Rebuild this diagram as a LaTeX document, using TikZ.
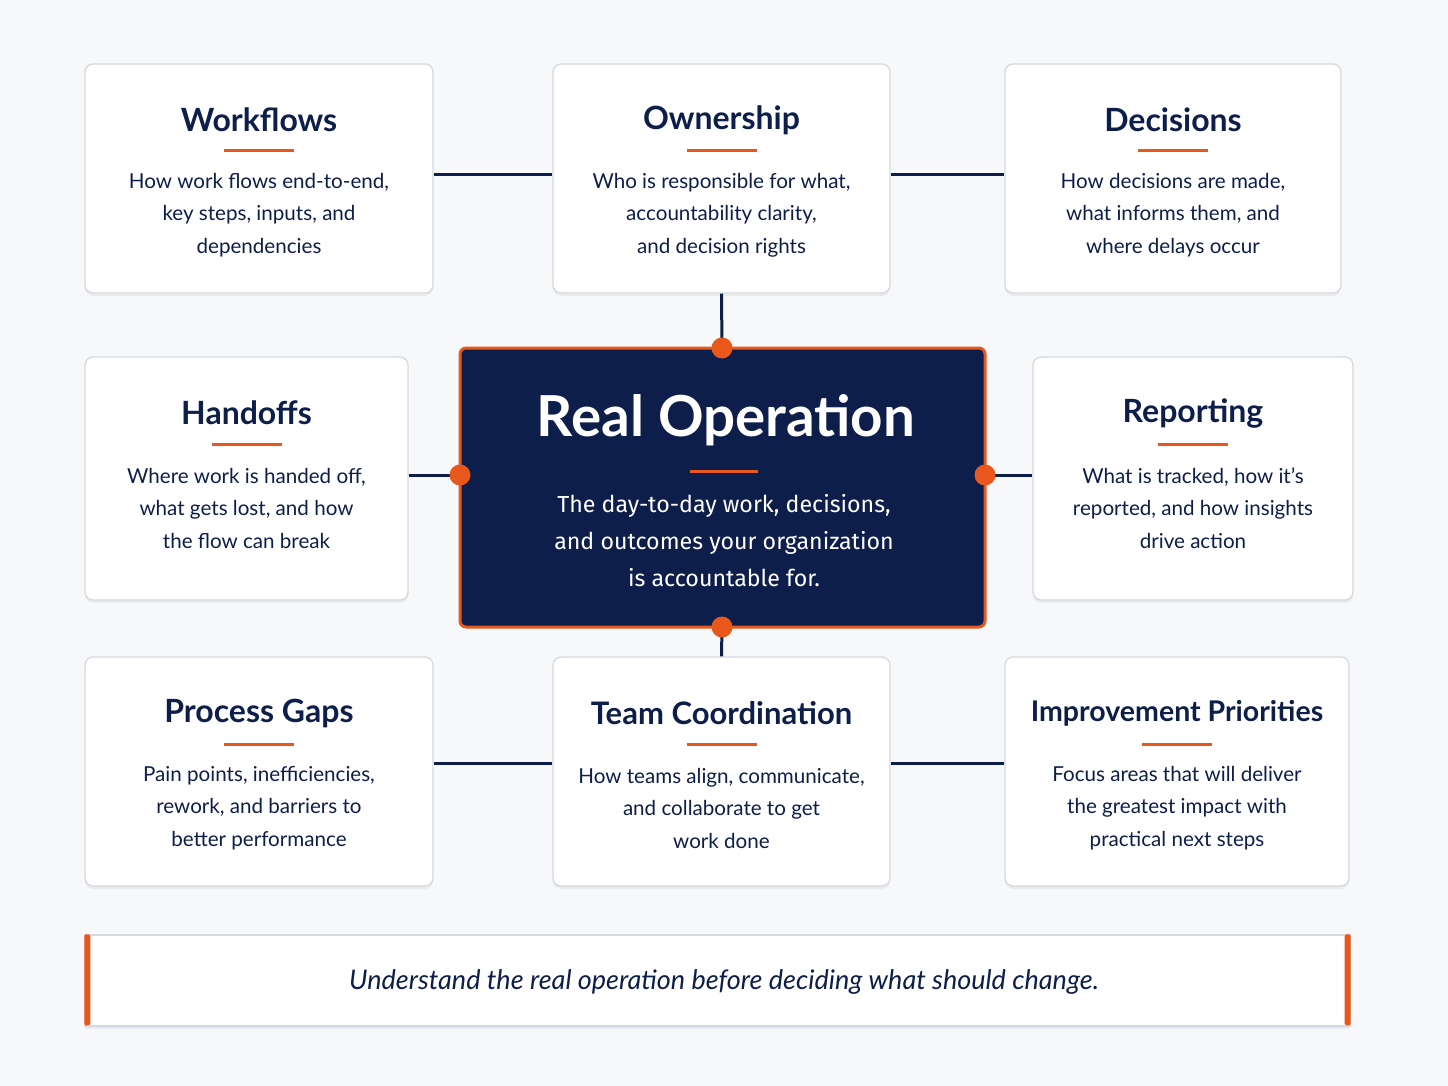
\documentclass[tikz,border=0pt]{standalone}
\usepackage{fontspec}
\setmainfont{Lato}
\newfontfamily\condfont{Fira Sans}
\usetikzlibrary{shadows}
\definecolor{navy}{HTML}{0E1E4A}
\definecolor{orng}{HTML}{E8581C}
\definecolor{bord}{HTML}{D5D8DE}
\definecolor{bgc}{HTML}{F7F8FA}
\tikzset{
  card/.style={draw=bord, line width=1.3pt, fill=white, rounded corners=8pt, inner sep=0pt,
    drop shadow={shadow xshift=0pt, shadow yshift=-3pt, opacity=0.05, fill=black}},
  cardtitle/.style={text=navy, font=\fontsize{32}{36}\selectfont\bfseries, inner sep=0pt},
  cardbody/.style={text=navy, font=\fontsize{20.6}{32.5}\selectfont, align=center, inner sep=0pt},
  orule/.style={draw=orng, line width=3pt},
  link/.style={draw=navy, line width=3pt},
  hubdot/.style={circle, fill=orng, inner sep=0pt, minimum size=21pt},
}
\newcommand{\cardbox}[7]{%
  \node[card, minimum width={#4-#2}, minimum height={#5-#3}] (#1) at ({(#2+#4)/2},{(#3+#5)/2}) {};
  \node[cardtitle] (#1t) at ({(#2+#4)/2},{#3+56}) {#6};
  \draw[orule] ({(#2+#4)/2-35},{#3+87}) -- ({(#2+#4)/2+35},{#3+87});
  \node[cardbody] (#1b) at ({(#2+#4)/2},{#3+151}) {#7};
}
\begin{document}
\begin{tikzpicture}[x=1pt,y=-1pt]
\fill[bgc] (0,0) rectangle (1448,1086);
\useasboundingbox (0,0) rectangle (1448,1086);

\coordinate (dT) at (722,348);
\coordinate (dB) at (722,627);
\coordinate (dL) at (460,475);
\coordinate (dR) at (985,475);

\cardbox{wf}{85}{64}{433}{293}{Workflows}{How work flows end-to-end,\\key steps, inputs, and\\dependencies}
\cardbox{own}{553}{64}{890}{293}{Ownership}{Who is responsible for what,\\accountability clarity,\\and decision rights}
\cardbox{dec}{1005}{64}{1341}{293}{Decisions}{How decisions are made,\\what informs them, and\\where delays occur}
\cardbox{ho}{85}{357}{408}{600}{Handoffs}{Where work is handed off,\\what gets lost, and how\\the flow can break}
\cardbox{rep}{1033}{357}{1353}{600}{Reporting}{What is tracked, how it’s\\reported, and how insights\\drive action}
\cardbox{pg}{85}{657}{433}{886}{Process Gaps}{Pain points, inefficiencies,\\rework, and barriers to\\better performance}
\cardbox{tc}{553}{657}{890}{886}{\fontsize{31}{36}\selectfont Team Coordination}{How teams align, communicate,\\and collaborate to get\\work done}
\cardbox{ip}{1005}{657}{1349}{886}{\fontsize{28.5}{34}\selectfont Improvement Priorities}{Focus areas that will deliver\\the greatest impact with\\practical next steps}

\draw[link] (wf.east |- 0,175) -- (own.west |- 0,175);
\draw[link] (own.east |- 0,175) -- (dec.west |- 0,175);
\draw[link] (pg.east |- 0,763) -- (tc.west |- 0,763);
\draw[link] (tc.east |- 0,763) -- (ip.west |- 0,763);
\draw[link] (own.south) -- (dT);
\draw[link] (tc.north) -- (dB);
\draw[link] (ho.east |- dL) -- (dL);
\draw[link] (rep.west |- dR) -- (dR);

\node[draw=orng, line width=3pt, fill=navy, rounded corners=6pt, minimum width=525pt, minimum height=279pt, inner sep=0pt] (hub) at (722.5,487.5) {};
\node[text=white, font=\fontsize{56.5}{62}\selectfont\bfseries, inner sep=0pt] (hubt) at (726,420) {Real Operation};
\draw[orule] (690,471) -- (758,471);
\node[text=white, font=\condfont\fontsize{23.2}{37}\selectfont, align=center, inner sep=0pt] (hubb) at (724,541) {The day-to-day work, decisions,\\and outcomes your organization\\is accountable for.};

\node[hubdot] at (dT) {};
\node[hubdot] at (dB) {};
\node[hubdot] at (dL) {};
\node[hubdot] at (dR) {};

\node[draw=bord, line width=1.3pt, fill=white, inner sep=0pt, minimum width=1265pt, minimum height=91pt,
  drop shadow={shadow xshift=0pt, shadow yshift=-3pt, opacity=0.05, fill=black}] (ban) at (717.5,980.5) {};
\fill[orng, rounded corners=1.5pt] (ban.north west) rectangle ++(6,91);
\fill[orng, rounded corners=1.5pt] (ban.north east) rectangle ++(-6,91);
\node[text=navy, font=\fontsize{27}{32}\selectfont\itshape, inner sep=0pt] (bant) at (724,982) {Understand the real operation before deciding what should change.};
\end{tikzpicture}
\end{document}
